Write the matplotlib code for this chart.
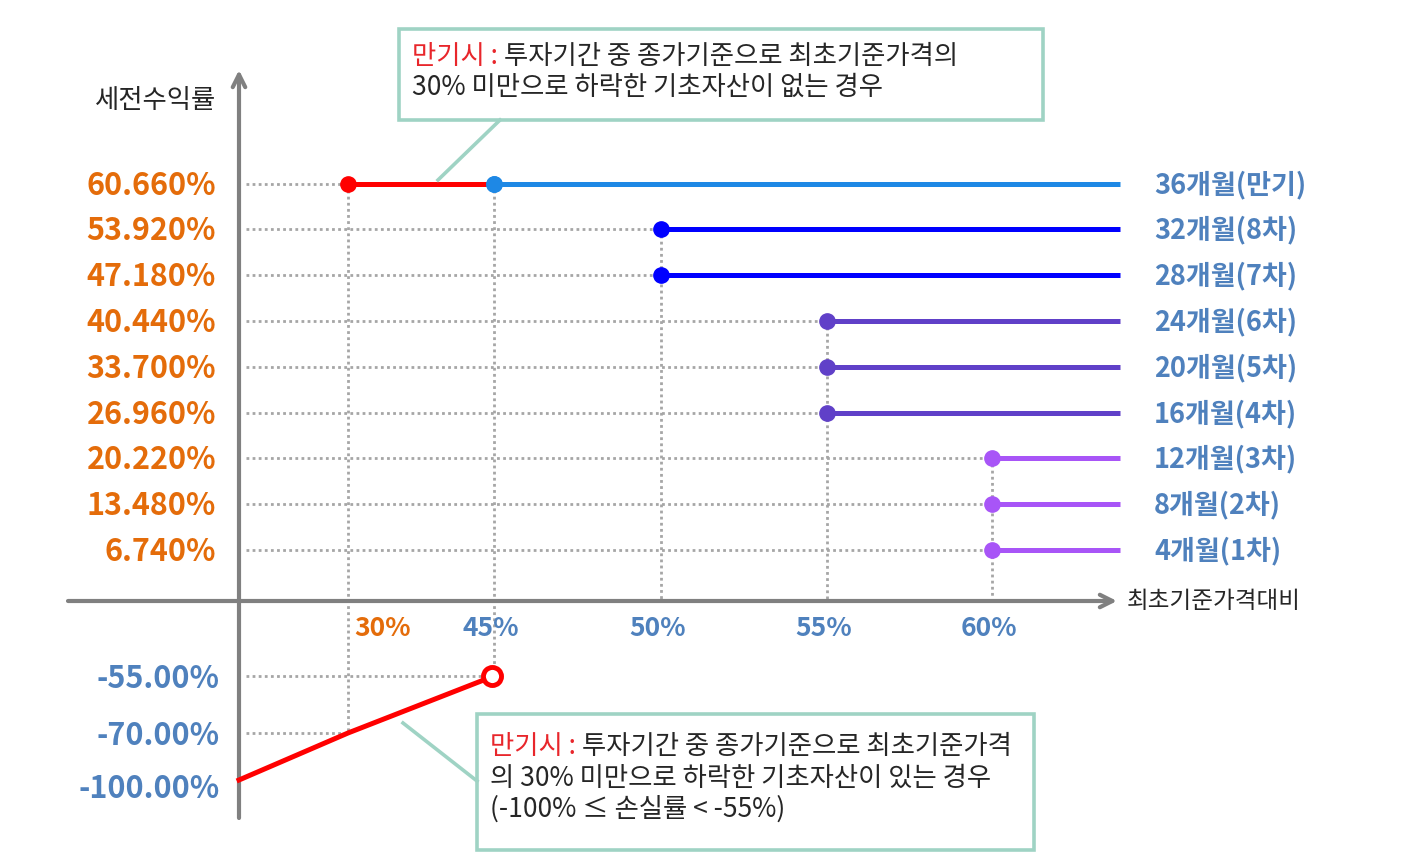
import matplotlib
matplotlib.use("Agg")
import matplotlib.pyplot as plt

plt.rcParams['font.family'] = ['Noto Sans CJK KR', 'DejaVu Sans']

# ---- data ----
coupon_rates = [6.74, 13.48, 20.22, 26.96, 33.70, 40.44, 47.18, 53.92, 60.66]
redemption_names = ['4개월(1차)', '8개월(2차)', '12개월(3차)', '16개월(4차)', '20개월(5차)',
                    '24개월(6차)', '28개월(7차)', '32개월(8차)', '36개월(만기)']
barriers = [60, 60, 60, 55, 55, 55, 50, 50, 45]
maturity_ki = 30          # knock-in level at maturity
loss_returns = [-55.0, -70.0, -100.0]
loss_prices = [45, 30, 0]
tick_prices = [30, 45, 50, 55, 60]

top_note = ['투자기간 중 종가기준으로 최초기준가격의',
            '30% 미만으로 하락한 기초자산이 없는 경우']
bottom_note = ['투자기간 중 종가기준으로 최초기준가격',
               '의 30% 미만으로 하락한 기초자산이 있는 경우',
               '(-100% ≤ 손실률 < -55%)']

# ---- layout (schematic, pixel space) ----
price_pos = {0: 239, 30: 348, 45: 494, 50: 661, 55: 827, 60: 992}
line_end = 1120
row0_y, row_gap = 550, 45.8
loss_pos = {-55.0: 676, -70.0: 733, -100.0: 780}
axis_y = 601

orange = '#E46C0A'
label_blue = '#4F81BD'
dot_gray = '#A6A6A6'
axis_gray = '#808080'
box_green = '#9FD3C4'
row_colors = ['#A855F7', '#A855F7', '#A855F7', '#6040C8', '#6040C8', '#6040C8',
              '#0000FF', '#0000FF', '#1E88E5']


def row_y(i):
    return row0_y - row_gap * i


fig = plt.figure(figsize=(14.08, 8.58), dpi=100)
ax = fig.add_axes([0, 0, 1, 1])
ax.set_xlim(0, 1408)
ax.set_ylim(858, 0)
ax.axis('off')

dots = dict(color=dot_gray, lw=2.0, linestyle=(0, (1, 1.2)), zorder=1)

# axes with arrow heads
ax.annotate('', xy=(239, 70), xytext=(239, 818),
            arrowprops=dict(arrowstyle='->,head_length=0.9,head_width=0.45',
                            lw=3, color=axis_gray, shrinkA=0, shrinkB=0))
ax.annotate('', xy=(1117, axis_y), xytext=(68, axis_y),
            arrowprops=dict(arrowstyle='->,head_length=0.9,head_width=0.45',
                            lw=3, color=axis_gray, shrinkA=0, shrinkB=0))
ax.text(156, 100, '세전수익률', fontsize=19, color='#262626', ha='center', va='center')
ax.text(1127, 601, '최초기준가격대비', fontsize=17, color='#262626', ha='left', va='center')

# coupon rows
for i, (rate, name, b) in enumerate(zip(coupon_rates, redemption_names, barriers)):
    y = row_y(i)
    x0 = price_pos[b]
    start = price_pos[maturity_ki] if b == 45 else x0
    ax.plot([246, start], [y, y], **dots)
    ax.plot([x0, line_end], [y, y], color=row_colors[i], lw=3.6, solid_capstyle='butt', zorder=3)
    ax.plot(x0, y, 'o', ms=11, color=row_colors[i], zorder=4)
    ax.text(216, y + 2, f'{rate:.3f}%', fontsize=22, fontweight='bold', color=orange,
            ha='right', va='center')
    ax.text(1154, y + 1, name, fontsize=19.5, fontweight='bold', color=label_blue,
            ha='left', va='center')

# red segment at maturity (30% ~ 45%)
y_top = row_y(len(coupon_rates) - 1)
ax.plot([price_pos[maturity_ki], price_pos[45]], [y_top, y_top], color='#FF0000', lw=3.6, zorder=3)
ax.plot(price_pos[maturity_ki], y_top, 'o', ms=11, color='#FF0000', zorder=4)
ax.plot(price_pos[45], y_top, 'o', ms=11, color=row_colors[-1], zorder=5)

# vertical guides down to the x axis
for b in sorted(set(barriers)):
    top = min(row_y(i) for i, bb in enumerate(barriers) if bb == b)
    bottom = loss_pos[-55.0] - 8 if b == 45 else axis_y
    ax.plot([price_pos[b], price_pos[b]], [top, bottom], **dots)
ax.plot([price_pos[maturity_ki]] * 2, [y_top, loss_pos[-70.0]], **dots)

# x tick labels
for p in tick_prices:
    if p == maturity_ki:
        ax.text(price_pos[p] + 6, 628, f'{p}%', fontsize=19, fontweight='bold', color=orange,
                ha='left', va='center')
    else:
        ax.text(price_pos[p] - 3, 628, f'{p}%', fontsize=19, fontweight='bold', color=label_blue,
                ha='center', va='center')

# loss area
for r, p in zip(loss_returns, loss_prices):
    y = loss_pos[r]
    if p > 0:
        ax.plot([246, price_pos[p]], [y, y], **dots)
    ax.text(220, y + 3 + (6 if r == -100.0 else 0), f'{r:.2f}%', fontsize=22, fontweight='bold',
            color=label_blue, ha='right', va='center')
ax.plot([price_pos[p] for p in loss_prices[::-1]], [loss_pos[r] for r in loss_returns[::-1]],
        color='#FF0000', lw=3.6, zorder=3)
ax.plot(price_pos[45] - 2, loss_pos[-55.0], 'o', ms=13, mfc='white', mec='#FF0000', mew=3.5, zorder=5)


# callout boxes
def callout(x0, y0, x1, y1, lines, line_ys, pointer):
    ax.add_patch(plt.Rectangle((x0, y0), x1 - x0, y1 - y0, fill=True, fc='white',
                               ec=box_green, lw=2.6, zorder=6))
    ax.plot(*zip(*pointer), color=box_green, lw=2.6, zorder=6)
    for k, (txt, ly) in enumerate(zip(lines, line_ys)):
        if k == 0:
            red = ax.text(x0 + 13, ly, '만기시 : ', fontsize=19, color='#E8262B',
                          ha='left', va='center', zorder=7)
            ax.annotate(txt, xy=(1, 0), xycoords=red, fontsize=19, color='#262626',
                        ha='left', va='bottom', zorder=7)
        else:
            ax.text(x0 + 13, ly, txt, fontsize=19, color='#262626',
                    ha='left', va='center', zorder=7)


callout(399, 29, 1043, 120, top_note, [56, 87], [(500, 120), (438, 180)])
callout(477, 714, 1034, 850, bottom_note, [746, 778, 809], [(477, 781), (403, 723)])

fig.savefig('out.png', dpi=100)
